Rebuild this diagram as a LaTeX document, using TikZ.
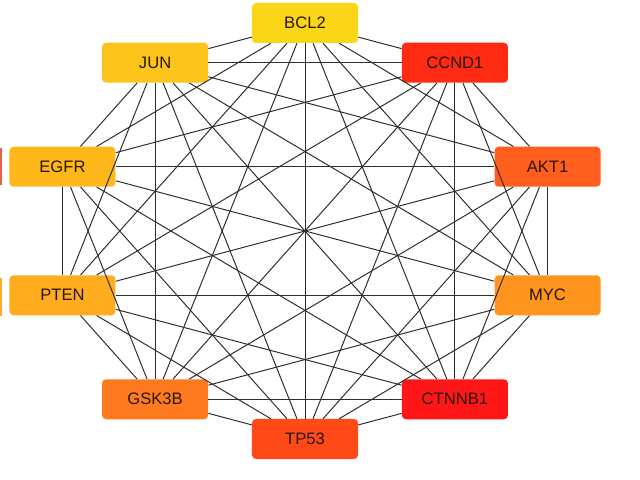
\documentclass[tikz,border=0pt]{standalone}
\usepackage{fontspec}
\setmainfont{Liberation Sans}
\usepackage{tikz}

\definecolor{cBCL}{RGB}{249,214,24}
\definecolor{cCCND}{RGB}{255,42,18}
\definecolor{cAKT}{RGB}{255,94,28}
\definecolor{cMYC}{RGB}{255,148,30}
\definecolor{cCTNNB}{RGB}{255,22,22}
\definecolor{cTP}{RGB}{255,74,24}
\definecolor{cGSK}{RGB}{255,122,30}
\definecolor{cPTEN}{RGB}{255,172,30}
\definecolor{cEGFR}{RGB}{255,184,26}
\definecolor{cJUN}{RGB}{252,196,26}
\definecolor{cEdge}{RGB}{45,45,45}
\definecolor{cText}{RGB}{40,22,8}

\tikzset{
  gene/.style={rectangle, rounded corners=0.1cm, minimum width=2.65cm,
    minimum height=1cm, inner sep=0pt, text=cText, font=\fontsize{11.8}{13}\selectfont},
  link/.style={color=cEdge, line width=0.7pt}
}

\begin{document}
\begin{tikzpicture}[x=0.025cm, y=0.025cm]
    \useasboundingbox (0, 0) rectangle (640, 480);

    % cut-off boxes at the left border
    \fill[color={rgb,255:red,232;green,96;blue,80}] (-20, 295) rectangle (2, 332);
    \fill[color={rgb,255:red,255;green,170;blue,40}] (-20, 164) rectangle (2, 202);

    \begin{scope}[shift={(305, 249)}]
    % draw gene boxes round the ring
    \foreach \i/\ang/\name/\col in {1/90/BCL2/cBCL, 2/54/CCND1/cCCND, 3/18/AKT1/cAKT,
        4/-18/MYC/cMYC, 5/-54/CTNNB1/cCTNNB, 6/-90/TP53/cTP, 7/-126/GSK3B/cGSK,
        8/-162/PTEN/cPTEN, 9/162/EGFR/cEGFR, 10/126/JUN/cJUN}
      \node[gene, fill=\col] (g\i) at (\ang : 255 and 208) {\name};

    % draw every pair of links
    \foreach \i in {1, ..., 9} {
      \pgfmathtruncatemacro{\k}{\i + 1}
      \foreach \j in {\k, ..., 10}
        \draw[link] (g\i) -- (g\j);
    }
    \end{scope}

\end{tikzpicture}
\end{document}
